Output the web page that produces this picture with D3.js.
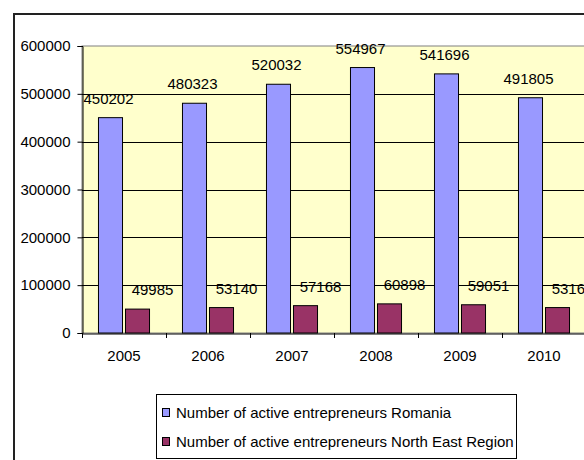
<!DOCTYPE html>
<html>
<head>
<meta charset="utf-8">
<script src="https://cdn.jsdelivr.net/npm/d3@7"></script>
<style>
  html, body { margin: 0; padding: 0; background: #ffffff; }
  svg { display: block; }
  text { font-family: "Liberation Sans", Arial, sans-serif; fill: #000; }
</style>
</head>
<body>
<svg id="chart" width="584" height="460"></svg>
<script>
const years = ["2005", "2006", "2007", "2008", "2009", "2010"];
const romania = [450202, 480323, 520032, 554967, 541696, 491805];
const northEast = [49985, 53140, 57168, 60898, 59051, 53165];
const seriesNames = ["Number of active entrepreneurs Romania", "Number of active entrepreneurs North East Region"];
const seriesColors = ["#9999FF", "#993366"];
const yTicks = [0, 100000, 200000, 300000, 400000, 500000, 600000];

(function () {
const svg = d3.select("#chart");
const fs = 15;

// outer chart frame (cropped on right and bottom)
svg.append("rect").attr("x", 14).attr("y", 14).attr("width", 700).attr("height", 600)
  .attr("fill", "#fff").attr("stroke", "#222").attr("stroke-width", 2);

const pL = 82, pT = 46, pB = 333, pR = 586;
const x = d3.scaleBand().domain(years).range([pL, pR]).paddingInner(0).paddingOuter(0);
const xs = d3.scaleBand().domain([0, 1]).range([0, x.bandwidth()]).paddingInner(0.11).paddingOuter(0.61);
const y = d3.scaleLinear().domain([0, 600000]).range([pB, pT]);

// plot area
svg.append("rect").attr("x", pL).attr("y", pT).attr("width", pR - pL).attr("height", pB - pT)
  .attr("fill", "#FFFFCC").attr("stroke", "#808080").attr("stroke-width", 1);

// gridlines
svg.append("g").selectAll("line").data(yTicks.filter(d => d > 0 && d < 600000)).join("line")
  .attr("x1", pL).attr("x2", pR)
  .attr("y1", d => Math.round(y(d)) + 0.5).attr("y2", d => Math.round(y(d)) + 0.5)
  .attr("stroke", "#000").attr("stroke-width", 1);

// bars
const series = [romania, northEast];
series.forEach((vals, si) => {
  svg.append("g").selectAll("rect").data(vals).join("rect")
    .attr("x", (d, i) => x(years[i]) + xs(si))
    .attr("y", d => y(d))
    .attr("width", xs.bandwidth())
    .attr("height", d => y(0) - y(d))
    .attr("fill", seriesColors[si])
    .attr("stroke", "#000").attr("stroke-width", 1);
});

// y axis
const yAxis = d3.axisLeft(y).tickValues(yTicks).tickSize(5).tickPadding(7).tickFormat(d3.format("d"));
const gy = svg.append("g").attr("transform", `translate(${pL + 0.5},0)`).call(yAxis);
gy.select(".domain").attr("stroke", "#000");
gy.selectAll("text").attr("font-size", fs).attr("font-family", "Liberation Sans, Arial, sans-serif").attr("fill", "#000");

// x axis
const xAxis = d3.axisBottom(x).tickSize(0).tickPadding(17);
const gx = svg.append("g").attr("transform", `translate(0,${pB + 0.5})`).call(xAxis);
gx.select(".domain").attr("stroke", "#000");
gx.selectAll("text").attr("font-size", fs).attr("font-family", "Liberation Sans, Arial, sans-serif").attr("fill", "#000");
// category boundary ticks
svg.append("g").selectAll("line").data(years).join("line")
  .attr("x1", d => Math.round(x(d)) + 0.5).attr("x2", d => Math.round(x(d)) + 0.5)
  .attr("y1", pB).attr("y2", pB + 5).attr("stroke", "#000");

// data labels
const labelDx = [-2, 15];
series.forEach((vals, si) => {
  svg.append("g").selectAll("text").data(vals).join("text")
    .attr("x", (d, i) => x(years[i]) + xs(si) + xs.bandwidth() / 2 + labelDx[si])
    .attr("y", d => y(d) - 14)
    .attr("text-anchor", "middle")
    .attr("font-size", fs)
    .text(d => d);
});

// legend
const lg = svg.append("g");
lg.append("rect").attr("x", 156.5).attr("y", 394.5).attr("width", 360).attr("height", 64)
  .attr("fill", "#fff").attr("stroke", "#000");
seriesNames.forEach((name, i) => {
  const cy = 413 + i * 29;
  lg.append("rect").attr("x", 162.5).attr("y", cy - 4.5).attr("width", 7).attr("height", 8)
    .attr("fill", seriesColors[i]).attr("stroke", "#000");
  lg.append("text").attr("x", 176).attr("y", cy + 5).attr("font-size", fs).text(name);
});
})();
</script>
</body>
</html>
